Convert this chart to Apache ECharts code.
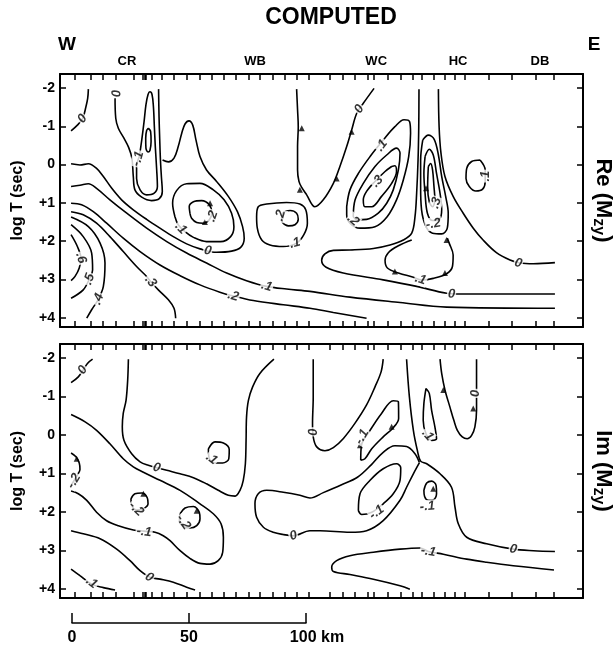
<!DOCTYPE html>
<html><head><meta charset="utf-8">
<script src="https://cdn.jsdelivr.net/npm/echarts@6/dist/echarts.min.js"></script>
<style>html,body{margin:0;padding:0;background:#fff}#c{width:615px;height:645px}</style>
</head><body><div id="c"></div>
<script>
// ---------- axes data ----------
const stationKm = [1.3,8.0,13.1,18.5,26.2,30.2,30.9,31.6,34.1,38.3,43.6,49.0,54.4,59.7,64.7,70.1,75.5,80.3,85.8,91.0,96.0,101,110,115.8,120.8,126.6,129,134.8,140.6,145.5,149.6,154.5,159.5,163.6,167.7,178.3,188.0,198.0,206.0];
const logTTicks = [-2,-1,0,1,2,3,4];
const scaleKm = [0,50,100];
const stationNames = [['CR',23.5],['WB',78.2],['WC',130],['HC',165],['DB',200]];

// ---------- Re(Mzy) contours [km, log T] ----------
const reA = [[-0.4,-0.88],[2.3,-1.03],[4.6,-1.21],[5.8,-1.47],[6.7,-1.73],[7.0,-1.97]];
const reB = [[18.4,-1.73],[18.7,-1.21],[19.8,-0.95],[22.2,-0.69],[24.2,-0.45],[25.6,-0.17],[26.2,0.31],[26.9,0.66],[29.8,0.85],[34.0,0.94],[37.3,0.89],[38.6,0.70],[38.2,0.31],[37.8,-0.12],[37.5,-0.64],[37.2,-1.25],[37.0,-1.97]];
const reSpike = [[28.8,-0.21],[29.8,-0.64],[30.8,-1.12],[31.6,-1.56],[32.5,-1.83],[33.3,-1.90],[34.2,-1.83],[34.8,-1.51],[35.2,-0.99],[35.6,-0.47],[36.2,0.14],[36.5,0.57],[35.0,0.75],[31.9,0.79],[29.1,0.66],[27.6,0.36],[27.6,0.05],[28.8,-0.21]];
const reOval = [[32.6,-0.95],[33.6,-0.86],[33.8,-0.60],[33.3,-0.37],[32.5,-0.33],[31.6,-0.43],[31.5,-0.69],[31.9,-0.89],[32.6,-0.95]];
const reC = [[-0.4,-0.02],[3.4,0.01],[7.0,-0.02],[10.5,0.10],[13.4,0.31],[17.0,0.62],[21.2,0.92],[26.2,1.18],[31.9,1.43],[37.6,1.66],[43.3,1.88],[49.0,2.07],[54.7,2.20],[61.8,2.29],[68.2,2.26],[72.1,2.16],[73.6,1.92],[72.9,1.62],[70.7,1.23],[66.8,0.83],[61.8,0.44],[57.5,0.14],[54.7,-0.21],[53.0,-0.64],[51.6,-1.03],[50.0,-1.14],[48.3,-1.06],[46.9,-0.82],[45.4,-0.47],[43.6,-0.17],[41.2,-0.07],[38.7,-0.12]];
const reC1 = [[44.0,1.36],[43.0,1.01],[44.7,0.68],[49.0,0.50],[54.7,0.49],[60.4,0.66],[65.0,0.92],[68.2,1.27],[69.2,1.62],[67.8,1.88],[63.5,2.01],[57.5,2.01],[51.9,1.90],[48.3,1.75],[45.4,1.57],[44.0,1.36]];
const reC2 = [[50.4,1.27],[50.1,1.10],[51.9,0.97],[55.4,0.94],[58.7,1.05],[59.7,1.27],[58.7,1.44],[56.1,1.53],[53.3,1.51],[51.1,1.40],[50.4,1.27]];
const reD = [[-0.4,0.57],[3.4,0.54],[7.0,0.50],[10.5,0.62],[16.2,0.92],[23.4,1.27],[31.9,1.66],[40.5,2.01],[49.0,2.31],[57.5,2.57],[66.1,2.83],[74.6,3.03],[83.2,3.18],[91.7,3.25],[101.7,3.31],[118.8,3.46],[140.2,3.60],[160.1,3.72],[206.4,3.75]];
const reE = [[-0.4,1.01],[4.1,1.05],[9.1,1.23],[14.8,1.53],[21.9,1.92],[29.1,2.27],[37.6,2.62],[46.2,2.90],[54.7,3.14],[63.2,3.33],[68.9,3.43],[77.5,3.55],[90.3,3.66],[101.7,3.75],[111.7,3.86],[125.9,4.01]];
const reF = [[-0.4,1.23],[4.8,1.31],[10.5,1.53],[16.2,1.88],[21.9,2.27],[27.6,2.66],[31.9,2.92],[33.6,3.05],[36.9,3.27],[41.2,3.53],[43.6,3.75],[44.3,4.01]];
const reG = [[-0.4,1.37],[7.0,1.62],[12.0,2.05],[14.1,2.57],[13.4,3.18],[11.3,3.51],[8.4,3.79],[6.3,4.01]];
const reH = [[-0.4,1.57],[4.8,1.88],[8.4,2.31],[8.8,2.75],[7.4,2.99],[4.8,3.27],[-0.4,3.49]];
const reI = [[-0.4,1.83],[2.3,2.14],[3.8,2.44],[3.1,2.70],[1.3,2.92],[-0.4,3.03]];
const reV = [[96.0,-1.97],[96.4,-1.43],[96.7,-0.99],[96.4,-0.47],[96.4,0.14],[97.0,0.44],[98.1,0.59],[100.3,0.79],[103.8,1.10],[107.4,0.92],[111.7,0.49],[114.5,0.05],[117.4,-0.47],[119.5,-0.90],[121.7,-1.34],[124.5,-1.60],[129.1,-1.99]];
const reWB1 = [[78.9,1.36],[79.6,1.10],[83.2,1.03],[91.7,0.99],[97.4,1.03],[99.9,1.18],[100.6,1.53],[99.1,1.83],[96.0,2.05],[90.3,2.14],[84.6,2.10],[81.1,1.97],[79.2,1.66],[78.9,1.36]];
const reWB2 = [[89.6,1.40],[90.3,1.25],[93.2,1.20],[96.0,1.27],[96.7,1.43],[95.3,1.57],[92.5,1.60],[90.0,1.51],[89.6,1.40]];
const reWC1 = [[117.4,1.10],[118.8,0.66],[122.4,0.23],[127.4,-0.21],[133.0,-0.64],[138.0,-0.99],[141.9,-1.17],[144.3,-1.12],[144.7,-0.82],[143.9,-0.21],[141.6,0.40],[138.7,0.92],[134.7,1.36],[129.5,1.62],[123.1,1.66],[118.8,1.53],[117.4,1.31],[117.4,1.10]];
const reWC2 = [[120.2,1.36],[121.0,0.92],[124.5,0.49],[129.5,0.05],[134.5,-0.25],[138.7,-0.43],[140.2,-0.30],[139.5,0.14],[137.3,0.66],[134.5,1.01],[130.9,1.27],[125.9,1.43],[121.7,1.44],[120.2,1.36]];
const reWC3 = [[136.6,0.05],[133.8,0.18],[129.5,0.44],[125.9,0.70],[124.5,0.92],[125.2,1.10],[128.1,1.10],[132.3,0.83],[136.6,0.49],[138.7,0.18],[138.0,0.03],[136.6,0.05]];
const reHC0L = [[148.3,-1.97],[148.2,-0.99],[147.9,-0.12],[147.3,0.75],[146.6,1.36],[145.2,1.79],[141.6,1.97],[135.9,2.10],[128.8,2.19],[118.8,2.23],[111.7,2.24],[108.1,2.33],[106.7,2.50],[108.6,2.68],[115.9,2.83],[133.0,3.01],[147.3,3.18],[160.1,3.36],[165.8,3.38],[206.4,3.38]];
const reHC0R = [[156.6,-1.97],[156.9,-0.99],[157.7,-0.30],[159.4,0.31],[162.9,0.83],[167.2,1.27],[171.5,1.66],[175.7,1.97],[181.4,2.30],[187.2,2.49],[191.5,2.57],[197.2,2.59],[206.4,2.56]];
const reHCa = [[149.9,-0.64],[152.3,-0.77],[154.8,-0.66],[156.6,-0.25],[158.0,0.31],[159.7,0.83],[160.8,1.27],[160.4,1.66],[158.0,1.81],[154.1,1.79],[151.3,1.62],[149.4,1.18],[149.0,0.57],[149.0,-0.12],[149.9,-0.64]];
const reHCb = [[150.9,-0.21],[152.7,-0.40],[154.4,-0.25],[155.8,0.23],[157.3,0.75],[158.0,1.18],[157.0,1.43],[154.1,1.46],[151.9,1.27],[150.9,0.75],[150.4,0.23],[150.9,-0.21]];
const reHCc = [[152.3,0.05],[153.3,-0.03],[154.1,0.14],[154.7,0.57],[155.1,0.92],[154.1,1.10],[152.7,0.97],[152.0,0.57],[152.3,0.05]];
const reHCbulb = [[145.2,1.97],[139.5,2.12],[135.2,2.30],[133.8,2.50],[134.8,2.70],[139.5,2.83],[145.9,2.94],[149.4,3.01],[154.4,2.97],[160.1,2.85],[162.6,2.66],[162.9,2.36],[161.2,2.05],[160.4,1.92]];
const reHCsmall = [[174.4,-0.12],[170.8,-0.08],[168.7,0.10],[168.4,0.36],[169.8,0.57],[172.6,0.69],[175.5,0.64],[176.6,0.44],[176.6,0.14],[174.4,-0.12]];
const reLabels = [[4.4,-1.2,'0','reA'],[18.4,-1.86,'0','reB'],[28.2,-0.15,'-.1','reSpike'],[58.0,2.25,'0','reC'],[46.5,1.66,'.1','reC1'],[60.0,1.35,'.2','reC2'],[83.2,3.18,'.1','reD'],[68.9,3.43,'.2','reE'],[33.6,3.05,'.3','reF'],[11.3,3.51,'.4','reG'],[7.4,2.99,'.5','reH'],[3.8,2.44,'.6','reI'],[122.8,-1.45,'0','reV'],[95.3,2.05,'.1','reWB1'],[89.0,1.33,'.2','reWB2'],[132.3,-0.5,'.1','reWC1'],[120.2,1.45,'.2','reWC2'],[130.5,0.44,'.3','reWC3'],[162.2,3.38,'0','reHC0L'],[190.7,2.57,'0','reHC0R'],[154.4,1.55,'-.2','reHCb'],[155.6,1.0,'.3','reHCc'],[149.0,3.0,'.1','reHCbulb'],[176.6,0.3,'.1','reHCsmall']];
const reTicks = [[59.0,1.01],[56.8,1.50],[98.2,-0.95],[97.4,0.66],[119.5,-0.86],[113.1,0.36],[151.3,0.62],[160.1,1.97],[138.0,2.79],[159.4,2.83]];

// ---------- Im(Mzy) contours [km, log T] ----------
const imA = [[-0.4,-1.36],[2.7,-1.51],[4.8,-1.69],[6.6,-1.86],[8.8,-1.97]];
const imB = [[24.1,-1.97],[23.8,-1.43],[23.1,-0.90],[21.9,-0.56],[21.5,-0.21],[22.2,0.14],[25.5,0.49],[29.1,0.70],[32.6,0.79],[36.2,0.85],[40.5,0.92],[46.2,1.01],[51.9,1.11],[57.5,1.27],[62.5,1.44],[66.8,1.57],[69.7,1.59],[71.8,1.44],[73.2,1.18],[74.1,0.75],[74.4,0.14],[74.6,-0.47],[75.4,-0.90],[77.2,-1.25],[80.3,-1.60],[86.3,-1.97]];
const imC = [[-0.4,-0.53],[5.6,-0.34],[10.5,-0.12],[16.2,0.23],[21.9,0.62],[26.2,0.83],[30.5,0.97],[37.6,1.18],[46.2,1.44],[54.7,1.79],[60.4,2.05],[63.7,2.31],[64.7,2.66],[64.4,3.05],[62.5,3.27],[59.0,3.36],[54.7,3.34],[50.4,3.21],[46.2,3.01],[41.9,2.75],[39.0,2.62],[35.5,2.53],[30.8,2.50],[26.2,2.47],[19.8,2.36],[14.8,2.23],[10.5,2.01],[6.3,1.70],[2.7,1.53],[-0.4,1.46]];
const imD = [[-0.4,2.49],[4.8,2.57],[12.0,2.70],[19.1,2.97],[24.8,3.27],[29.1,3.53],[33.3,3.70],[37.6,3.75],[43.3,3.83],[49.0,3.96],[52.6,4.03]];
const imE = [[-0.4,3.49],[3.4,3.66],[8.4,3.88],[13.4,3.97],[18.4,4.03]];
const imF = [[-0.4,0.47],[1.7,0.57],[3.1,0.73],[3.4,0.90],[2.4,1.03],[-0.4,1.31]];
const imG = [[25.2,1.66],[26.9,1.53],[29.8,1.51],[32.2,1.64],[32.5,1.79],[30.5,1.92],[27.6,1.95],[25.5,1.83],[25.2,1.66]];
const imH = [[46.2,2.05],[48.3,1.90],[51.9,1.86],[54.4,2.01],[54.7,2.18],[53.3,2.36],[50.4,2.42],[47.6,2.38],[45.9,2.23],[46.2,2.05]];
const imI = [[58.3,0.36],[61.1,0.18],[64.7,0.21],[67.2,0.38],[67.0,0.62],[64.4,0.73],[61.1,0.73],[58.7,0.62],[58.3,0.36]];
const imJ1 = [[143.0,-1.97],[144.2,-0.99],[145.9,-0.12],[147.6,0.40],[149.0,0.68],[151.6,0.75],[157.3,1.01],[162.2,1.36],[163.7,1.88],[165.1,2.31],[168.7,2.66],[177.2,2.83],[188.6,2.97],[197.2,3.01],[206.4,3.03]];
const imJ2 = [[148.5,0.72],[145.9,1.01],[143.0,1.36],[140.2,1.70],[133.0,2.23],[125.9,2.49],[118.8,2.53],[106.0,2.49],[101.7,2.49],[94.6,2.62],[90.3,2.59],[86.0,2.53],[81.8,2.40],[78.9,2.14],[78.2,1.79],[79.6,1.53],[83.2,1.44],[90.3,1.49],[97.4,1.57],[101.7,1.64],[107.4,1.50],[115.0,1.30],[122.0,1.10],[128.0,0.77],[133.0,0.45],[138.0,0.28],[143.0,0.30],[146.5,0.48],[148.5,0.72]];
const imK = [[103.1,-1.97],[103.1,-0.99],[102.8,-0.30],[103.1,0.05],[104.6,0.31],[108.1,0.41],[111.7,0.33],[116.0,0.09],[120.9,-0.30],[125.9,-0.78],[129.5,-1.25],[132.1,-1.64],[133.0,-1.97]];
const imUpper = [[123.4,0.66],[123.7,0.27],[127.4,-0.12],[132.3,-0.56],[137.3,-0.89],[139.5,-0.86],[139.6,-0.43],[137.3,-0.19],[133.0,0.05],[128.1,0.36],[125.2,0.62],[123.4,0.66]];
const imLower = [[122.4,1.97],[123.1,1.53],[127.4,1.18],[133.0,0.88],[138.7,0.75],[140.5,0.85],[140.2,1.18],[137.3,1.53],[133.0,1.79],[128.1,2.01],[123.8,2.07],[122.4,1.97]];
const imSmall = [[150.4,1.44],[151.6,1.25],[153.7,1.20],[155.6,1.31],[155.8,1.53],[154.4,1.69],[152.3,1.70],[150.7,1.60],[150.4,1.44]];
const imNarrow = [[151.3,-1.21],[150.4,-0.82],[150.1,-0.38],[151.3,-0.03],[153.7,0.14],[155.8,0.10],[155.1,-0.21],[153.7,-0.64],[152.7,-1.08],[151.3,-1.21]];
const imRU = [[157.3,-1.97],[158.0,-1.60],[159.4,-1.17],[161.5,-0.73],[163.2,-0.38],[164.7,-0.12],[166.8,0.05],[168.9,0.10],[170.8,0.01],[172.2,-0.21],[172.9,-0.64],[172.9,-1.43],[172.9,-1.97]];
const imBR = [[206.0,3.51],[188.6,3.40],[177.2,3.31],[168.7,3.23],[158.7,3.10],[152.3,3.03],[148.7,2.94],[140.2,2.97],[128.8,3.05],[118.8,3.14],[113.1,3.27],[111.0,3.44],[111.7,3.55],[118.8,3.63],[128.8,3.75],[140.2,3.92],[144.4,4.01]];
const imLabels = [[4.6,-1.69,'0','imA'],[36.2,0.85,'0','imB'],[30.8,2.52,'-.1','imC'],[33.0,3.70,'0','imD'],[8.4,3.84,'.1','imE'],[0.8,1.2,'-.2','imF'],[27.4,1.92,'-.2','imG'],[47.6,2.27,'-.2','imH'],[59.7,0.62,'.1','imI'],[188.6,2.97,'0','imJ1'],[94.6,2.62,'0','imJ2'],[102.4,-0.08,'0','imK'],[123.9,0.05,'-.1','imUpper'],[130.2,2.01,'-.1','imLower'],[151.9,1.86,'-.1','imSmall'],[152.0,0.0,'.1','imNarrow'],[172.5,-1.08,'0','imRU'],[152.3,3.03,'-.1','imBR']];
const imTicks = [[158.7,-1.17],[171.5,-0.69],[136.6,-0.21],[123.1,0.27],[154.4,1.40],[2.0,0.62],[30.5,1.53],[53.3,1.97]];

// ---------- build ----------
const reCurves = {reA,reB,reSpike,reOval,reC,reC1,reC2,reD,reE,reF,reG,reH,reI,reV,reWB1,reWB2,reWC1,reWC2,reWC3,reHC0L,reHC0R,reHCa,reHCb,reHCc,reHCbulb,reHCsmall};
const imCurves = {imA,imB,imC,imD,imE,imF,imG,imH,imI,imJ1,imJ2,imK,imUpper,imLower,imSmall,imNarrow,imRU,imBR};

const FONT = '"Liberation Sans", Arial, Helvetica, sans-serif';
const X0 = -5.13, X1 = 218.4, Y0 = -2.365, Y1 = 4.24;
const chart = echarts.init(document.getElementById('c'), null, {renderer:'canvas'});

function xAx(gi, pos){
  return {type:'value', gridIndex:gi, position:pos, min:X0, max:X1,
    axisLine:{show:true, onZero:false, lineStyle:{color:'#000', width:2}},
    axisTick:{show:true, inside:true, length:6, customValues:stationKm, lineStyle:{color:'#000', width:1.5}},
    axisLabel:{show:false}, splitLine:{show:false}};
}
function yAx(gi, pos, name){
  const left = pos === 'left';
  return {type:'value', gridIndex:gi, position:pos, inverse:true, min:Y0, max:Y1,
    axisLine:{show:true, onZero:false, lineStyle:{color:'#000', width:2}},
    axisTick:{show:true, inside:true, length:6, customValues:logTTicks, lineStyle:{color:'#000', width:1.5}},
    axisLabel:{show:left, customValues:logTTicks, margin:5, color:'#000', fontFamily:FONT, fontWeight:'bold', fontSize:14,
      formatter:v => (v > 0 ? '+' + v : String(v))},
    splitLine:{show:false},
    name:name, nameLocation:'middle', nameGap: left ? 34 : 7, nameRotate: left ? 90 : -90,
    nameTextStyle: left ? {color:'#000', fontFamily:FONT, fontWeight:'bold', fontSize:16}
      : {color:'#000', fontFamily:FONT, rich:{a:{fontSize:22, fontWeight:'bold', fontFamily:FONT, color:'#000', lineHeight:26, verticalAlign:'middle'},
                                            s:{fontSize:16, fontWeight:'bold', fontFamily:FONT, color:'#000', lineHeight:16, verticalAlign:'bottom'}}}
  };
}

function lineSeries(curves, gi){
  return Object.keys(curves).map(k => ({type:'line', name:k, xAxisIndex:gi*2, yAxisIndex:gi*2, data:curves[k],
    symbol:'none', showSymbol:false, smooth:0.35, silent:true, animation:false, z:2,
    lineStyle:{color:'#000', width:1.6}}));
}
function labelSeries(labels, gi, rot){
  return {type:'scatter', xAxisIndex:gi*2, yAxisIndex:gi*2, symbolSize:1, silent:true, animation:false, z:5,
    itemStyle:{color:'rgba(0,0,0,0)'},
    data: labels.map((l, i) => ({value:[l[0], l[1]], name:l[2],
      label:{show:true, position:'inside', formatter:l[2], rotate: rot ? rot[i] : 0,
        color:'#000', fontFamily:FONT, fontWeight:'bold', fontStyle:'italic', fontSize:13,
        backgroundColor:'#fff', padding:[0,1]}}))};
}
function tickSeries(ticks, gi){
  return {type:'scatter', xAxisIndex:gi*2, yAxisIndex:gi*2, symbol:'triangle', symbolSize:6, silent:true, animation:false, z:4,
    itemStyle:{color:'#000'}, data:ticks};
}

const grids = [
  {left:60, top:74, width:523, height:253, containLabel:false, outerBoundsMode:'none'},
  {left:60, top:344, width:523, height:254, containLabel:false, outerBoundsMode:'none'},
  {left:72, top:612, width:234, height:11, containLabel:false, outerBoundsMode:'none'}
];

function buildOption(reRot, imRot){
  return {
    animation:false,
    backgroundColor:'#fff',
    grid: grids,
    xAxis:[xAx(0,'bottom'), xAx(0,'top'), xAx(1,'bottom'), xAx(1,'top'),
      {type:'value', gridIndex:2, position:'bottom', min:scaleKm[0], max:scaleKm[scaleKm.length-1], interval:50,
        axisLine:{show:true, onZero:false, lineStyle:{color:'#000', width:1.5}},
        axisTick:{show:true, inside:true, length:10, lineStyle:{color:'#000', width:1.5}},
        splitLine:{show:false},
        axisLabel:{margin:7, color:'#000', fontFamily:FONT, fontWeight:'bold', fontSize:15,
          formatter: v => v === 100 ? '{p|}{t|100 km}' : '{t|' + v + '}',
          rich:{p:{width:22}, t:{fontFamily:FONT, fontWeight:'bold', fontSize:16, color:'#000'}}}}],
    yAxis:[yAx(0,'left','log T (sec)'), yAx(0,'right','{a|Re (M}{s|zy}{a|)}'),
           yAx(1,'left','log T (sec)'), yAx(1,'right','{a|Im (M}{s|zy}{a|)}'),
           {type:'value', gridIndex:2, show:false, min:0, max:1}],
    series: [...lineSeries(reCurves,0), ...lineSeries(imCurves,1), tickSeries(reTicks,0), tickSeries(imTicks,1),
             labelSeries(reLabels,0,reRot), labelSeries(imLabels,1,imRot)],
    graphic: [
      {type:'text', x:331, y:18, style:{text:'COMPUTED', font:'bold 23px ' + FONT, fill:'#000', textAlign:'center', textVerticalAlign:'middle'}},
      {type:'text', x:67, y:45, style:{text:'W', font:'bold 19px ' + FONT, fill:'#000', textAlign:'center', textVerticalAlign:'middle'}},
      {type:'text', x:594, y:45, style:{text:'E', font:'bold 19px ' + FONT, fill:'#000', textAlign:'center', textVerticalAlign:'middle'}}
    ].concat(stationNames.map(s => ({type:'text', x: 72 + s[1]*2.34, y:61,
      style:{text:s[0], font:'bold 13px ' + FONT, fill:'#000', textAlign:'center', textVerticalAlign:'middle'}})))
  };
}

chart.setOption(buildOption(null, null));

function rotations(labels, curves, gi){
  const f = {xAxisIndex:gi*2, yAxisIndex:gi*2};
  return labels.map(l => {
    const pts = curves[l[3]].map(p => chart.convertToPixel(f, p));
    const q = chart.convertToPixel(f, [l[0], l[1]]);
    let best = Infinity, ang = 0;
    for (let i = 0; i < pts.length - 1; i++) {
      const a = pts[i], b = pts[i+1];
      const dx = b[0]-a[0], dy = b[1]-a[1];
      const L = dx*dx + dy*dy || 1;
      let t = ((q[0]-a[0])*dx + (q[1]-a[1])*dy) / L; t = Math.max(0, Math.min(1, t));
      const d = Math.hypot(a[0]+t*dx-q[0], a[1]+t*dy-q[1]);
      if (d < best) { best = d; ang = Math.atan2(-dy, dx) * 180 / Math.PI; }
    }
    if (ang > 90) ang -= 180; if (ang < -90) ang += 180;
    return ang;
  });
}
chart.setOption(buildOption(rotations(reLabels, reCurves, 0), rotations(imLabels, imCurves, 1)));
</script></body></html>
